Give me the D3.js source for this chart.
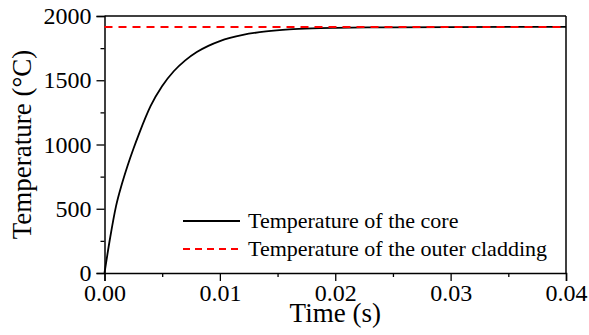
<!DOCTYPE html>
<html>
<head>
<meta charset="utf-8">
<script src="https://cdn.jsdelivr.net/npm/d3@7"></script>
<style>
  body { margin: 0; background: #fff; }
  svg text { font-family: "Liberation Serif", "Times New Roman", serif; fill: #000; }
</style>
</head>
<body>
<div id="chart"></div>
<script>
// Time (s) and core temperature (°C)
const timeValues = [0, 0.0005, 0.001, 0.0015, 0.002, 0.0025, 0.003, 0.004, 0.005, 0.006, 0.007,
  0.008, 0.009, 0.010, 0.012, 0.014, 0.016, 0.018, 0.020, 0.025, 0.030, 0.035, 0.040];
const coreTemp = [0, 280, 520, 690, 835, 965, 1085, 1300, 1455, 1570, 1655,
  1720, 1768, 1805, 1853, 1880, 1896, 1904, 1908, 1912, 1914, 1915, 1915];
const claddingTime = [0, 0.040];
const claddingTemp = [1915, 1915];

const xTicks = [0, 0.01, 0.02, 0.03, 0.04];
const yTicks = [0, 500, 1000, 1500, 2000];
const xMinorTicks = [0.005, 0.015, 0.025, 0.035];
const yMinorTicks = [250, 750, 1250, 1750];
const seriesNames = ['Temperature of the core', 'Temperature of the outer cladding'];

const width = 589, height = 335;
const margin = { top: 16, right: 23, bottom: 62, left: 104.5 };
const innerWidth = width - margin.left - margin.right;
const innerHeight = height - margin.top - margin.bottom;
const serif = '"Liberation Serif", "Times New Roman", serif';

const svg = d3.select('#chart').append('svg')
  .attr('width', width)
  .attr('height', height);

const g = svg.append('g')
  .attr('transform', `translate(${margin.left},${margin.top})`);

const x = d3.scaleLinear().domain([0, 0.04]).range([0, innerWidth]);
const y = d3.scaleLinear().domain([0, 2000]).range([innerHeight, 0]);

// minor ticks (no labels)
g.append('g')
  .attr('transform', `translate(0,${innerHeight})`)
  .call(d3.axisBottom(x).tickValues(xMinorTicks).tickSize(4).tickFormat(''))
  .call(a => a.select('.domain').remove())
  .call(a => a.selectAll('text').remove())
  .selectAll('line').attr('stroke-width', 1.3);
g.append('g')
  .call(d3.axisLeft(y).tickValues(yMinorTicks).tickSize(4).tickFormat(''))
  .call(a => a.select('.domain').remove())
  .call(a => a.selectAll('text').remove())
  .selectAll('line').attr('stroke-width', 1.3);

// major axes
const xAxis = g.append('g')
  .attr('transform', `translate(0,${innerHeight})`)
  .call(d3.axisBottom(x).tickValues(xTicks).tickSize(8).tickPadding(3).tickFormat(d3.format('.2f')));
const yAxis = g.append('g')
  .call(d3.axisLeft(y).tickValues(yTicks).tickSize(8).tickPadding(5).tickFormat(d3.format('d')));

[xAxis, yAxis].forEach(a => {
  a.attr('font-family', serif).attr('font-size', 24);
  a.selectAll('text').attr('font-family', serif).style('font-size', '24px');
  a.selectAll('line').attr('stroke-width', 1.3);
  a.select('.domain').attr('stroke-width', 1.5);
});

// frame top and right
g.append('line').attr('x1', 0).attr('x2', innerWidth).attr('y1', 0).attr('y2', 0)
  .attr('stroke', '#000').attr('stroke-width', 1.5);
g.append('line').attr('x1', innerWidth).attr('x2', innerWidth).attr('y1', 0).attr('y2', innerHeight)
  .attr('stroke', '#000').attr('stroke-width', 1.5);

const line = d3.line().x(d => x(d[0])).y(d => y(d[1])).curve(d3.curveMonotoneX);

g.append('path')
  .datum(timeValues.map((t, i) => [t, coreTemp[i]]))
  .attr('fill', 'none').attr('stroke', '#000').attr('stroke-width', 1.8)
  .attr('d', line);

g.append('path')
  .datum(claddingTime.map((t, i) => [t, claddingTemp[i]]))
  .attr('fill', 'none').attr('stroke', '#ff0000').attr('stroke-width', 2)
  .attr('stroke-dasharray', '8,6')
  .attr('d', line);

// legend
const legend = svg.append('g');
const legendY = [221, 249];
const styles = [{ c: '#000', dash: null, w: 1.8 }, { c: '#ff0000', dash: '7,5', w: 2 }];
seriesNames.forEach((name, i) => {
  legend.append('line')
    .attr('x1', 183).attr('x2', 240).attr('y1', legendY[i]).attr('y2', legendY[i])
    .attr('stroke', styles[i].c).attr('stroke-width', styles[i].w)
    .attr('stroke-dasharray', styles[i].dash);
  legend.append('text')
    .attr('x', 248).attr('y', legendY[i] + 7)
    .style('font-size', '22px')
    .text(name);
});

// axis titles
svg.append('text')
  .attr('x', margin.left + innerWidth / 2).attr('y', 322)
  .attr('text-anchor', 'middle')
  .style('font-size', '27px')
  .text('Time (s)');
svg.append('text')
  .attr('transform', `translate(31,${margin.top + innerHeight / 2}) rotate(-90)`)
  .attr('text-anchor', 'middle')
  .style('font-size', '27px')
  .text('Temperature (°C)');
</script>
</body>
</html>
